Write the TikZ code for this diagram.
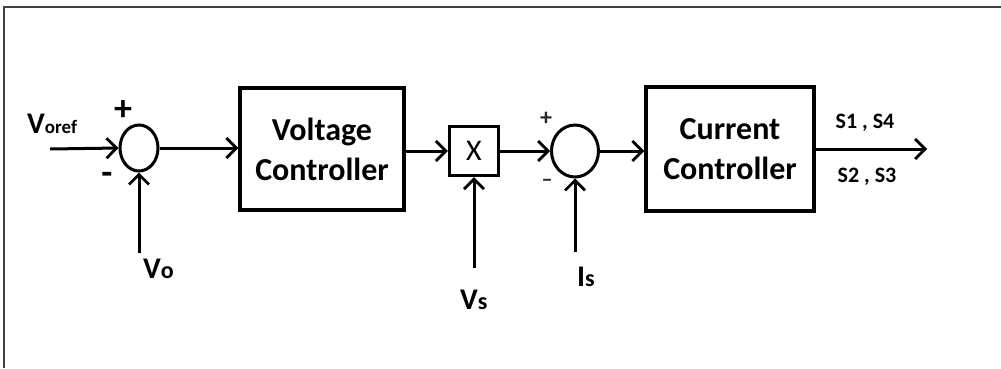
\documentclass[tikz,border=0pt]{standalone}
\usepackage{fontspec}
\setmainfont{Carlito}
\usetikzlibrary{arrows.meta,shapes.geometric}
\begin{document}
\begin{tikzpicture}[x=1pt,y=-1pt,
  conn/.style={line width=3pt,-{Straight Barb[length=10pt,width=20pt,line width=2.8pt]}},
  blk/.style={draw,line width=3.2pt,rectangle,inner sep=0pt,align=center,
     font=\fontsize{32}{40}\selectfont\bfseries},
  sumnode/.style={draw,line width=3pt,ellipse,inner sep=0pt},
  lbl/.style={inner sep=0pt,font=\fontsize{30}{30}\selectfont\bfseries},
  sig/.style={inner sep=0pt,font=\fontsize{22}{24}\selectfont\bfseries}]
\useasboundingbox (0,0) rectangle (1001,368);
% frame
\draw[line width=2.6pt,black!75] (1001,7) -- (4,7) -- (4,368);
% blocks
\node[sumnode,minimum width=38pt,minimum height=46pt] (s1) at (139,148) {};
\node[blk,minimum width=164pt,minimum height=122pt] (vc) at (322,149) {Voltage\\Controller};
\node[draw,line width=3.2pt,minimum width=49pt,minimum height=49pt,inner sep=0pt,
      font=\fontsize{30}{30}\selectfont] (mul) at (474,151) {X};
\node[sumnode,minimum width=47pt,minimum height=52pt] (s2) at (575,151) {};
\node[blk,minimum width=168pt,minimum height=124pt] (cc) at (730,149) {Current\\Controller};
% free ends
\coordinate (in) at (50,149);
\coordinate (vo) at (139,253);
\coordinate (vs) at (474,268);
\coordinate (is) at (575,252);
\coordinate (out) at (927,149);
% connectors
\draw[conn] (in) -- (s1.west);
\draw[conn] (vo) -- (s1.south);
\draw[conn] (s1.east) -- (s1.east -| vc.west);
\draw[conn] (vc.east |- mul.west) -- (mul.west);
\draw[conn] (vs) -- (mul.south);
\draw[conn] (mul.east) -- (s2.west);
\draw[conn] (is) -- (s2.south);
\draw[conn] (s2.east) -- (s2.east -| cc.west);
\draw[conn] (cc.east |- out) -- (out);
% labels
\node[lbl,anchor=base west] (lvoref) at (27,133) {V{\fontsize{19}{20}\selectfont oref}};
\node[lbl,anchor=base west] (lvo) at (143,278) {V{\fontsize{24}{20}\selectfont o}};
\node[lbl,anchor=base west] (lvs) at (460,309) {V{\fontsize{24}{20}\selectfont s}};
\node[lbl,anchor=base west] (lis) at (577,286) {I{\fontsize{24}{20}\selectfont s}};
\node[inner sep=0pt,font=\fontsize{36}{36}\selectfont\bfseries] (p1) at (123,111) {+};
\node[inner sep=0pt,font=\fontsize{36}{36}\selectfont\bfseries] (m1) at (107,178) {-};
\node[inner sep=0pt,font=\fontsize{24}{24}\selectfont\bfseries,text=black!85] (p2) at (546,119) {+};
\node[inner sep=0pt,font=\fontsize{22}{22}\selectfont\bfseries,text=black!85] (m2) at (547,183) {\textendash};
\node[sig] (o1) at (865,123) {S1 , S4};
\node[sig] (o2) at (867,177) {S2 , S3};
\end{tikzpicture}
\end{document}
